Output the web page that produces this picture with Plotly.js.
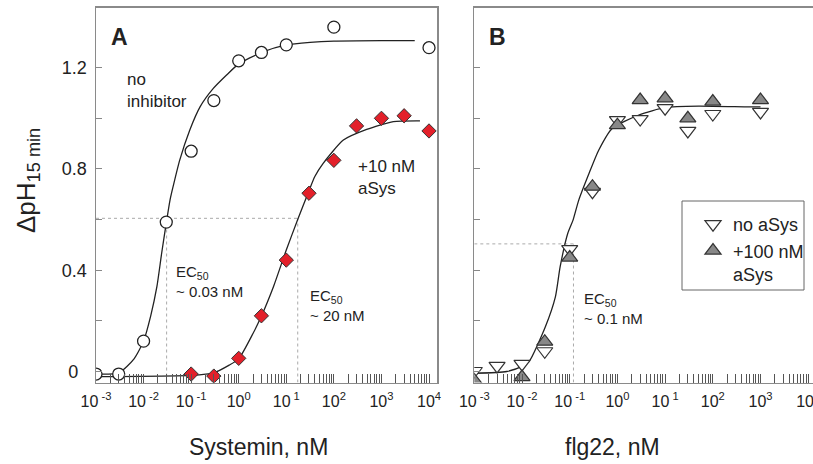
<!DOCTYPE html>
<html>
<head>
<meta charset="utf-8">
<script src="https://cdn.plot.ly/plotly-3.0.1.min.js"></script>
<style>
  html, body { margin: 0; padding: 0; overflow: hidden; background: #fff; }
  #chart { width: 830px; height: 464px; }
</style>
</head>
<body>
<div id="chart"></div>
<script>
// ---- Panel A: systemin dose response (nM) ----
const systeminConc = [0.001, 0.003, 0.01, 0.03, 0.1, 0.3, 1, 3, 10, 100, 10000];
const noInhibitor = [-0.01, -0.01, 0.12, 0.59, 0.87, 1.07, 1.227, 1.26, 1.29, 1.36, 1.279];

const systeminAsysConc = [0.1, 0.3, 1, 3, 10, 30, 100, 300, 1000, 3000, 10000];
const plus10nMAsys = [-0.01, -0.018, 0.052, 0.22, 0.44, 0.704, 0.834, 0.97, 1.0, 1.01, 0.95];

// fitted curves, sampled along log10(concentration)
const fitNoInhLogX = [-3.0, -2.52, -2.2, -2.0, -1.85, -1.72, -1.62, -1.52, -1.444, -1.38, -1.24, -1.03, -0.81, -0.534, -0.255, 0.0, 0.48, 1.0, 1.5, 2.0, 3.0, 3.7];
const fitNoInhY    = [-0.01, -0.005, 0.05, 0.12, 0.22, 0.335, 0.467, 0.59, 0.677, 0.73, 0.835, 0.953, 1.046, 1.118, 1.171, 1.215, 1.26, 1.29, 1.30, 1.305, 1.307, 1.307];

const fitAsysLogX = [-3.0, -1.0, -0.52, -0.2, 0.0, 0.3, 0.48, 0.73, 1.0, 1.24, 1.49, 1.6, 1.775, 2.2, 2.69, 3.25, 3.81];
const fitAsysY    = [-0.02, -0.015, -0.005, 0.025, 0.05, 0.15, 0.22, 0.335, 0.48, 0.60, 0.72, 0.77, 0.822, 0.914, 0.956, 0.987, 0.99];

// ---- Panel B: flg22 dose response (nM) ----
const flgConc = [0.001, 0.003, 0.01, 0.03, 0.1, 0.3, 1, 3, 10, 30, 100, 1000];
const noAsys = [0.002, 0.022, 0.03, 0.08, 0.483, 0.71, 0.993, 0.997, 1.04, 0.95, 1.017, 1.025];

const flgAsysConc = [0.001, 0.01, 0.03, 0.1, 0.3, 1, 3, 10, 30, 100, 1000];
const plus100nMAsys = [-0.035, -0.022, 0.118, 0.45, 0.73, 0.973, 1.072, 1.079, 1.0, 1.066, 1.072];

const fitFlgLogX = [-3.0, -2.32, -2.0, -1.85, -1.51, -1.3, -1.2, -1.04, -0.93, -0.81, -0.6, -0.39, -0.11, 0.45, 1.01, 1.71, 2.76, 3.0];
const fitFlgY    = [-0.007, 0.0, 0.02, 0.04, 0.177, 0.295, 0.414, 0.546, 0.598, 0.677, 0.78, 0.875, 0.96, 1.013, 1.043, 1.048, 1.045, 1.045];

// half-maximal responses and EC50 guides
const ecSystemin = 0.0305, ecSysteminAsys = 17.4, halfA = 0.605;
const ecFlg = 0.12, halfB = 0.504;

// axis ticks
const decades = [-3, -2, -1, 0, 1, 2, 3, 4];
const decadeLabels = ['10<sup> -3</sup>', '10<sup> -2</sup>', '10<sup> -1</sup>', '10<sup>0</sup>',
                      '10<sup> 1</sup>', '10<sup>2</sup>', '10<sup>3</sup>', '10<sup>4</sup>'];
const yTickVals = [0, 0.2, 0.4, 0.6, 0.8, 1.0, 1.2];
const yTickText = ['0\u00a0\u2009', '', '0.4', '', '0.8', '', '1.2'];

// ---- figure geometry ----
const W = 830, H = 464;
const px = v => v / W;
const py = v => 1 - v / H;
const FONT = 'Liberation Sans, Arial, sans-serif';

// log ticks at every 1..9 multiple, labels only at decades
const logTickVals = [], logTickText = [];
decades.forEach((d, i) => {
  for (let m = 1; m <= 9; m++) {
    if (d === 4 && m > 1) break;
    logTickVals.push(m * Math.pow(10, d));
    logTickText.push(m === 1 ? decadeLabels[i] : '');
  }
});
const toConc = arr => arr.map(v => Math.pow(10, v));

const curveLine = { color: '#222', width: 1.3, shape: 'spline', smoothing: 0.6 };

const traces = [
  // Panel A curves
  { x: toConc(fitNoInhLogX), y: fitNoInhY, xaxis: 'x', yaxis: 'y', mode: 'lines', line: curveLine, showlegend: false, hoverinfo: 'skip' },
  { x: toConc(fitAsysLogX), y: fitAsysY, xaxis: 'x', yaxis: 'y', mode: 'lines', line: curveLine, showlegend: false, hoverinfo: 'skip' },
  // Panel A points
  { x: systeminConc, y: noInhibitor, xaxis: 'x', yaxis: 'y', mode: 'markers', showlegend: false,
    marker: { symbol: 'circle', size: 12, color: '#fff', line: { color: '#222', width: 1.3 } } },
  { x: systeminAsysConc, y: plus10nMAsys, xaxis: 'x', yaxis: 'y', mode: 'markers', showlegend: false,
    marker: { symbol: 'diamond', size: 11, color: '#e3202a', line: { color: '#333', width: 1 } } },
  // Panel B curve
  { x: toConc(fitFlgLogX), y: fitFlgY, xaxis: 'x2', yaxis: 'y2', mode: 'lines', line: curveLine, showlegend: false, hoverinfo: 'skip' },
  // Panel B points
  { x: flgConc, y: noAsys, xaxis: 'x2', yaxis: 'y2', mode: 'markers', name: 'no aSys', legendrank: 1,
    marker: { symbol: 'triangle-down', size: 14, color: '#fff', line: { color: '#333', width: 1.2 } } },
  { x: flgAsysConc, y: plus100nMAsys, xaxis: 'x2', yaxis: 'y2', mode: 'markers', name: '+100 nM<br>aSys', legendrank: 2,
    legendgroup: 'b2',
    marker: { symbol: 'triangle-up', size: 14, color: '#888', line: { color: '#333', width: 1.2 } } }
];

const xCommon = {
  type: 'log', tickvals: logTickVals, ticktext: logTickText,
  ticks: 'inside', ticklen: 9, tickwidth: 1, tickcolor: '#555',
  showline: true, linecolor: '#8a8a8a', linewidth: 1.5, mirror: true,
  showgrid: false, zeroline: false, ticklabelstandoff: 4,
  tickfont: { family: FONT, size: 16, color: '#222' }
};
const yCommon = {
  range: [-0.0434, 1.4376], domain: [py(382.5), py(7.5)],
  tickvals: yTickVals, ticktext: yTickText,
  ticks: 'inside', ticklen: 6, tickwidth: 1, tickcolor: '#888',
  showline: true, linecolor: '#8a8a8a', linewidth: 1.5, mirror: true,
  showgrid: false, zeroline: false, ticklabelstandoff: 4,
  tickfont: { family: FONT, size: 18, color: '#222' }
};

const dotted = { color: '#aaa', width: 1, dash: 'dot' };
const yBottom = yCommon.range[0];
const shapes = [
  { type: 'line', xref: 'x', yref: 'y', x0: 0.001, x1: ecSysteminAsys, y0: halfA, y1: halfA, line: dotted, layer: 'below' },
  { type: 'line', xref: 'x', yref: 'y', x0: ecSystemin, x1: ecSystemin, y0: yBottom, y1: halfA, line: dotted, layer: 'below' },
  { type: 'line', xref: 'x', yref: 'y', x0: ecSysteminAsys, x1: ecSysteminAsys, y0: yBottom, y1: halfA, line: dotted, layer: 'below' },
  { type: 'line', xref: 'x2', yref: 'y2', x0: 0.001, x1: ecFlg, y0: halfB, y1: halfB, line: dotted, layer: 'below' },
  { type: 'line', xref: 'x2', yref: 'y2', x0: ecFlg, x1: ecFlg, y0: yBottom, y1: halfB, line: dotted, layer: 'below' },
  // legend frame
  { type: 'rect', xref: 'paper', yref: 'paper', x0: px(682), x1: px(804), y0: py(290), y1: py(201),
    line: { color: '#666', width: 1 }, fillcolor: 'rgba(0,0,0,0)' }
];

const txt = (text, x, y, size, extra) => Object.assign({
  text, xref: 'paper', yref: 'paper', x: px(x), y: py(y), showarrow: false,
  xanchor: 'left', yanchor: 'middle', align: 'left',
  font: { family: FONT, size, color: '#222' }
}, extra || {});

const annotations = [
  txt('<b>A</b>', 119, 37, 23, { xanchor: 'center' }),
  txt('<b>B</b>', 497, 37, 23, { xanchor: 'center' }),
  txt('no<br>inhibitor', 125, 91, 17),
  txt('+10 nM<br>aSys', 356, 178, 17),
  txt('EC<sub>50</sub><br>~ 0.03 nM', 174, 281, 15),
  txt('EC<sub>50</sub><br>~ 20 nM', 308, 305, 15),
  txt('EC<sub>50</sub><br>~ 0.1 nM', 582, 308, 15),
  txt('Systemin, nM', 258, 447, 23, { xanchor: 'center' }),
  txt('flg22, nM', 612, 447, 23, { xanchor: 'center' }),
  txt('\u0394pH<sub>15 min</sub>', 27, 181, 26, { xanchor: 'center', textangle: -90 })
];

const layout = {
  width: W, height: H,
  margin: { l: 0, r: 0, t: 0, b: 0 },
  paper_bgcolor: '#fff', plot_bgcolor: '#fff',
  font: { family: FONT, color: '#222' },
  xaxis: Object.assign({}, xCommon, { domain: [px(96), px(437)], range: [-3, 4.168], anchor: 'y' }),
  yaxis: Object.assign({}, yCommon, { anchor: 'x' }),
  xaxis2: Object.assign({}, xCommon, { domain: [px(474.3), px(815.5)], range: [-3, 4.153], anchor: 'y2' }),
  yaxis2: Object.assign({}, yCommon, { anchor: 'x2', showticklabels: false }),
  showlegend: true,
  legend: {
    x: px(693), y: py(206), xanchor: 'left', yanchor: 'top',
    bgcolor: 'rgba(0,0,0,0)', borderwidth: 0, traceorder: 'normal',
    tracegroupgap: 8, valign: 'top',
    font: { family: FONT, size: 18, color: '#222' }
  },
  shapes, annotations
};

Plotly.newPlot('chart', traces, layout, { displayModeBar: false, staticPlot: true });
</script>
</body>
</html>
